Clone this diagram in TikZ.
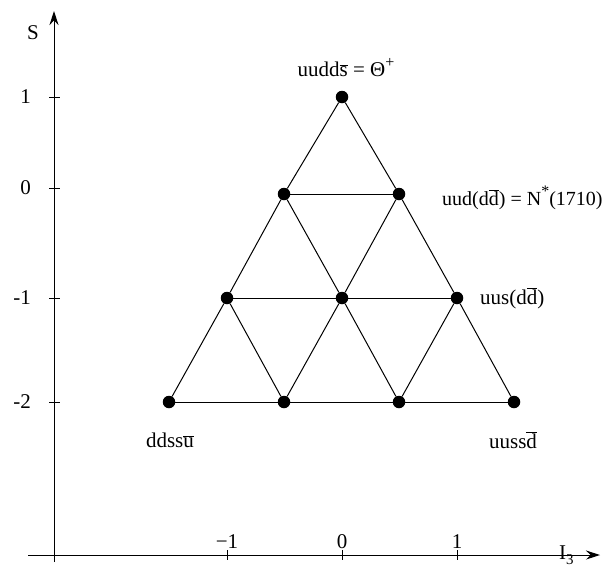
\documentclass[tikz,border=0pt]{standalone}
\usepackage{fontspec}
\setmainfont{Liberation Serif}
\usetikzlibrary{arrows.meta}
\newcommand\ob[1]{\ensuremath{\overline{\mbox{#1}}}}
\newcommand\sups[1]{\raisebox{9pt}{\fontsize{16}{18}\selectfont #1}}
\begin{document}
\begin{tikzpicture}[x=1pt,y=-1pt,
  dot/.style={circle,fill=black,inner sep=0pt,minimum size=12.5pt},
  edge/.style={line width=1pt},
  axis/.style={line width=1pt,-{Stealth[length=14pt,width=9pt]}},
  tick/.style={line width=0.9pt},
  lab/.style={font=\fontsize{21}{25}\selectfont,inner sep=0pt}]
\useasboundingbox (0,0) rectangle (607,566);
% axes
\coordinate (ybot) at (54,562);
\coordinate (ytop) at (54,11);
\coordinate (xl) at (28,555);
\coordinate (xr) at (600,555);
\draw[axis] (ybot) -- (ytop);
\draw[axis] (xl) -- (xr);
% y ticks
\foreach \y/\t in {97/1,188/0,298/-1,402/-2}{
  \draw[tick] (49,\y) -- (60,\y);
  \node[lab,anchor=east] at (31,\y) {\t};
}
% x ticks
\foreach \x/\t in {227/−1,342/0,457/1}{
  \draw[tick] (\x,550) -- (\x,560);
  \node[lab] at (\x,542) {\t};
}
\node[lab] (S) at (33,33) {S};
\node[lab,anchor=base west] (I3) at (559,559) {I\raisebox{-5pt}{\fontsize{15}{18}\selectfont 3}};
% lattice points
\node[dot] (a) at (342,97) {};
\node[dot] (b1) at (284,194) {};
\node[dot] (b2) at (399,194) {};
\node[dot] (c1) at (227,298) {};
\node[dot] (c2) at (342,298) {};
\node[dot] (c3) at (457,298) {};
\node[dot] (d1) at (169,402) {};
\node[dot] (d2) at (284,402) {};
\node[dot] (d3) at (399,402) {};
\node[dot] (d4) at (514,402) {};
% edges
\draw[edge] (a) -- (b1) -- (c1) -- (d1);
\draw[edge] (a) -- (b2) -- (c3) -- (d4);
\draw[edge] (b1) -- (b2);
\draw[edge] (c1) -- (c2) -- (c3);
\draw[edge] (d1) -- (d2) -- (d3) -- (d4);
\draw[edge] (b1) -- (c2) -- (b2);
\draw[edge] (c1) -- (d2) -- (c2) -- (d3) -- (c3);
% labels
\node[lab] (la) at (346,68) {uudd\ob{s} = Θ\sups{+}};
\node[lab,anchor=west,font=\fontsize{20}{24}\selectfont] (lb) at (442,198) {uud(d\ob{d}) = N\sups{*}(1710)};
\node[lab,anchor=west] (lc) at (480,298) {uus(d\ob{d})};
\node[lab] (ld) at (170,440) {ddss\ob{u}};
\node[lab] (le) at (513,440) {uuss\ob{d}};
\end{tikzpicture}
\end{document}
